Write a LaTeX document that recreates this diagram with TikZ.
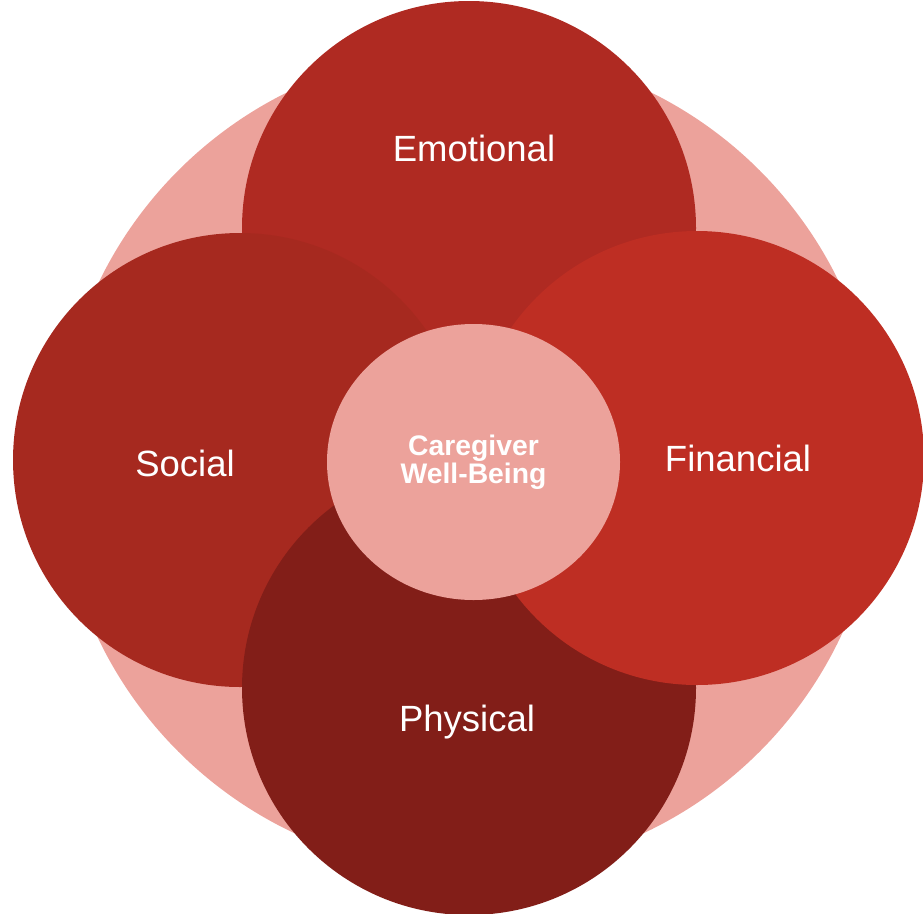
\documentclass[tikz,border=0pt]{standalone}
\usepackage{fontspec}
\setmainfont{Liberation Sans}
\usetikzlibrary{shapes.geometric}
\definecolor{ringpink}{HTML}{ECA29B}
\definecolor{emored}{HTML}{AF2A22}
\definecolor{socred}{HTML}{A6291F}
\definecolor{finred}{HTML}{BE2E23}
\definecolor{phyred}{HTML}{821E18}
\definecolor{corepink}{HTML}{ECA29B}
\begin{document}
\begin{tikzpicture}[x=1pt,y=-1pt,
  petal/.style={circle,minimum size=454pt,inner sep=0pt},
  petallabel/.style={text=white,font=\fontsize{36.5}{38}\selectfont},
  core/.style={ellipse,minimum width=293pt,minimum height=276pt,inner sep=0pt,fill=corepink,
    text=white,align=center,font=\bfseries\fontsize{28.3}{28.5}\selectfont}]
\useasboundingbox (0,0) rectangle (923,913);
% outer ring behind the petals
\fill[ringpink] (469,461) circle[radius=411pt];
% four petals, drawn in stacking order
\node[petal,fill=emored] (emo) at (469,228) {};
\node[petal,fill=socred] (soc) at (240,460) {};
\node[petal,fill=phyred] (phy) at (469,688) {};
\node[petal,fill=finred] (fin) at (697,458) {};
% petal labels
\node[petallabel] (emolbl) at (474,148) {Emotional};
\node[petallabel] (soclbl) at (185,463) {Social};
\node[petallabel] (finlbl) at (738,458) {Financial};
\node[petallabel] (phylbl) at (467,722) {Physical};
% centre
\node[core] (core) at (473.5,462) {Caregiver\\Well-Being};
\end{tikzpicture}
\end{document}
